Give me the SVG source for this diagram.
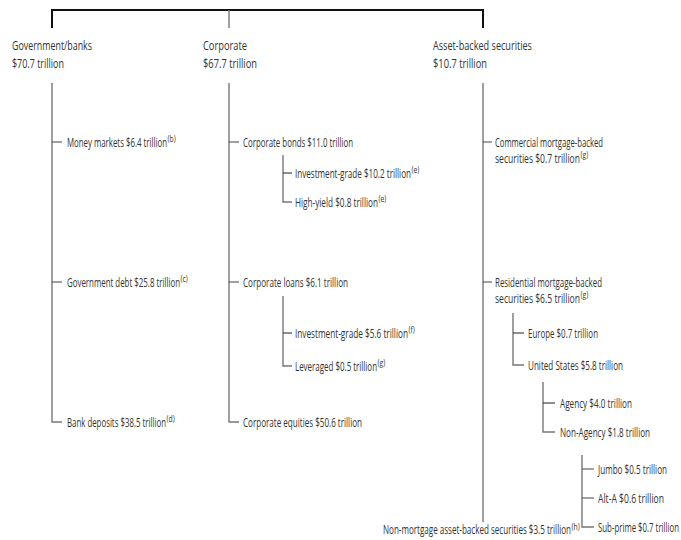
<svg xmlns="http://www.w3.org/2000/svg" width="681" height="540" viewBox="0 0 681 540">
<style>
  text { font-family: "Open Sans", "Liberation Sans", sans-serif; fill: #333; font-size: 12.5px; }
  text.s { font-size: 8.5px; }
  .top { stroke: #111; stroke-width: 2; fill: none; }
  .v { stroke: #777; stroke-width: 1.4; fill: none; }
  .b { stroke: #444; stroke-width: 1.2; fill: none; }
</style>
<rect width="681" height="540" fill="#fff"/>
<g id="connectors">
  <path class="top" d="M52,28 V10 H483 V28"/>
  <path class="v" d="M229,10 V28"/>
  <path class="v" d="M52,83 V422 H62"/>
  <path class="b" d="M52,142 H62 M52,282 H62"/>
  <path class="v" d="M229,83 V422 H239"/>
  <path class="b" d="M229,142 H239 M229,282 H239"/>
  <path class="v" d="M283,155 V202 H292"/>
  <path class="b" d="M283,173 H292"/>
  <path class="v" d="M283,296 V366 H292"/>
  <path class="b" d="M283,333 H292"/>
  <path class="v" d="M483,83 V522"/>
  <path class="b" d="M483,142 H492 M483,282 H492"/>
  <path class="v" d="M513,313 V365 H524"/>
  <path class="b" d="M513,333 H524"/>
  <path class="v" d="M543,382 V432 H555"/>
  <path class="b" d="M543,403 H555"/>
  <path class="v" d="M582,455 V527 H594"/>
  <path class="b" d="M582,469 H594 M582,498 H594"/>
</g>
<g id="gov">
  <text transform="translate(12,50) scale(0.63,1)" textLength="127" lengthAdjust="spacingAndGlyphs">Government/banks</text>
  <text transform="translate(12,68) scale(0.63,1)" textLength="82.5" lengthAdjust="spacingAndGlyphs">$70.7 trillion</text>
</g>
<g id="money">
  <text transform="translate(67,146.5) scale(0.63,1)" textLength="158.7" lengthAdjust="spacingAndGlyphs">Money markets $6.4 trillion</text>
  <text class="s" transform="translate(167.5,142) scale(0.8,1)">(b)</text>
</g>
<g id="govdebt">
  <text transform="translate(67,286.5) scale(0.63,1)" textLength="179.4" lengthAdjust="spacingAndGlyphs">Government debt $25.8 trillion</text>
  <text class="s" transform="translate(180.5,282) scale(0.8,1)">(c)</text>
</g>
<g id="bank">
  <text transform="translate(67,426.5) scale(0.63,1)" textLength="157.1" lengthAdjust="spacingAndGlyphs">Bank deposits $38.5 trillion</text>
  <text class="s" transform="translate(166.5,422) scale(0.8,1)">(d)</text>
</g>
<g id="corp">
  <text transform="translate(203,50) scale(0.63,1)" textLength="69.8" lengthAdjust="spacingAndGlyphs">Corporate</text>
  <text transform="translate(203,68) scale(0.63,1)" textLength="85.7" lengthAdjust="spacingAndGlyphs">$67.7 trillion</text>
</g>
<g id="corpbonds">
  <text transform="translate(243,146.5) scale(0.63,1)" textLength="174.6" lengthAdjust="spacingAndGlyphs">Corporate bonds $11.0 trillion</text>
</g>
<g id="ig1">
  <text transform="translate(295,177.5) scale(0.63,1)" textLength="184.1" lengthAdjust="spacingAndGlyphs">Investment-grade $10.2 trillion</text>
  <text class="s" transform="translate(411.5,173) scale(0.8,1)">(e)</text>
</g>
<g id="hy">
  <text transform="translate(295,206.5) scale(0.63,1)" textLength="131.7" lengthAdjust="spacingAndGlyphs">High-yield $0.8 trillion</text>
  <text class="s" transform="translate(378.5,202) scale(0.8,1)">(e)</text>
</g>
<g id="corploans">
  <text transform="translate(243,286.5) scale(0.63,1)" textLength="166.7" lengthAdjust="spacingAndGlyphs">Corporate loans $6.1 trillion</text>
</g>
<g id="ig2">
  <text transform="translate(295,337.5) scale(0.63,1)" textLength="179.4" lengthAdjust="spacingAndGlyphs">Investment-grade $5.6 trillion</text>
  <text class="s" transform="translate(408.5,333) scale(0.8,1)">(f)</text>
</g>
<g id="lev">
  <text transform="translate(295,370.5) scale(0.63,1)" textLength="130.2" lengthAdjust="spacingAndGlyphs">Leveraged $0.5 trillion</text>
  <text class="s" transform="translate(377.5,366) scale(0.8,1)">(g)</text>
</g>
<g id="equities">
  <text transform="translate(243,426.5) scale(0.63,1)" textLength="188.9" lengthAdjust="spacingAndGlyphs">Corporate equities $50.6 trillion</text>
</g>
<g id="abs">
  <text transform="translate(433,50) scale(0.63,1)" textLength="157.1" lengthAdjust="spacingAndGlyphs">Asset-backed securities</text>
  <text transform="translate(433,68) scale(0.63,1)" textLength="85.7" lengthAdjust="spacingAndGlyphs">$10.7 trillion</text>
</g>
<g id="cmbs">
  <text transform="translate(495,146.5) scale(0.63,1)" textLength="171.4" lengthAdjust="spacingAndGlyphs">Commercial mortgage-backed</text>
  <text transform="translate(495,162.5) scale(0.63,1)" textLength="134.9" lengthAdjust="spacingAndGlyphs">securities $0.7 trillion</text>
  <text class="s" transform="translate(580.5,158) scale(0.8,1)">(g)</text>
</g>
<g id="rmbs">
  <text transform="translate(495,286.5) scale(0.63,1)" textLength="169.8" lengthAdjust="spacingAndGlyphs">Residential mortgage-backed</text>
  <text transform="translate(495,302.5) scale(0.63,1)" textLength="134.9" lengthAdjust="spacingAndGlyphs">securities $6.5 trillion</text>
  <text class="s" transform="translate(580.5,298) scale(0.8,1)">(g)</text>
</g>
<g id="europe">
  <text transform="translate(528,337.5) scale(0.63,1)" textLength="111.1" lengthAdjust="spacingAndGlyphs">Europe $0.7 trillion</text>
</g>
<g id="us">
  <text transform="translate(528,369.5) scale(0.63,1)" textLength="150.8" lengthAdjust="spacingAndGlyphs">United States $5.8 trillion</text>
</g>
<g id="agency">
  <text transform="translate(560,407.5) scale(0.63,1)" textLength="114.3" lengthAdjust="spacingAndGlyphs">Agency $4.0 trillion</text>
</g>
<g id="nonagency">
  <text transform="translate(560,436.5) scale(0.63,1)" textLength="142.9" lengthAdjust="spacingAndGlyphs">Non-Agency $1.8 trillion</text>
</g>
<g id="jumbo">
  <text transform="translate(598,473.5) scale(0.63,1)" textLength="109.5" lengthAdjust="spacingAndGlyphs">Jumbo $0.5 trillion</text>
</g>
<g id="alta">
  <text transform="translate(598,502.5) scale(0.63,1)" textLength="104.8" lengthAdjust="spacingAndGlyphs">Alt-A $0.6 trillion</text>
</g>
<g id="subprime">
  <text transform="translate(598,531.5) scale(0.63,1)" textLength="128.6" lengthAdjust="spacingAndGlyphs">Sub-prime $0.7 trillion</text>
</g>
<g id="nonmortgage">
  <text transform="translate(383,534) scale(0.63,1)" textLength="298.4" lengthAdjust="spacingAndGlyphs">Non-mortgage asset-backed securities $3.5 trillion</text>
  <text class="s" transform="translate(571.5,529.5) scale(0.8,1)">(h)</text>
</g>
</svg>
